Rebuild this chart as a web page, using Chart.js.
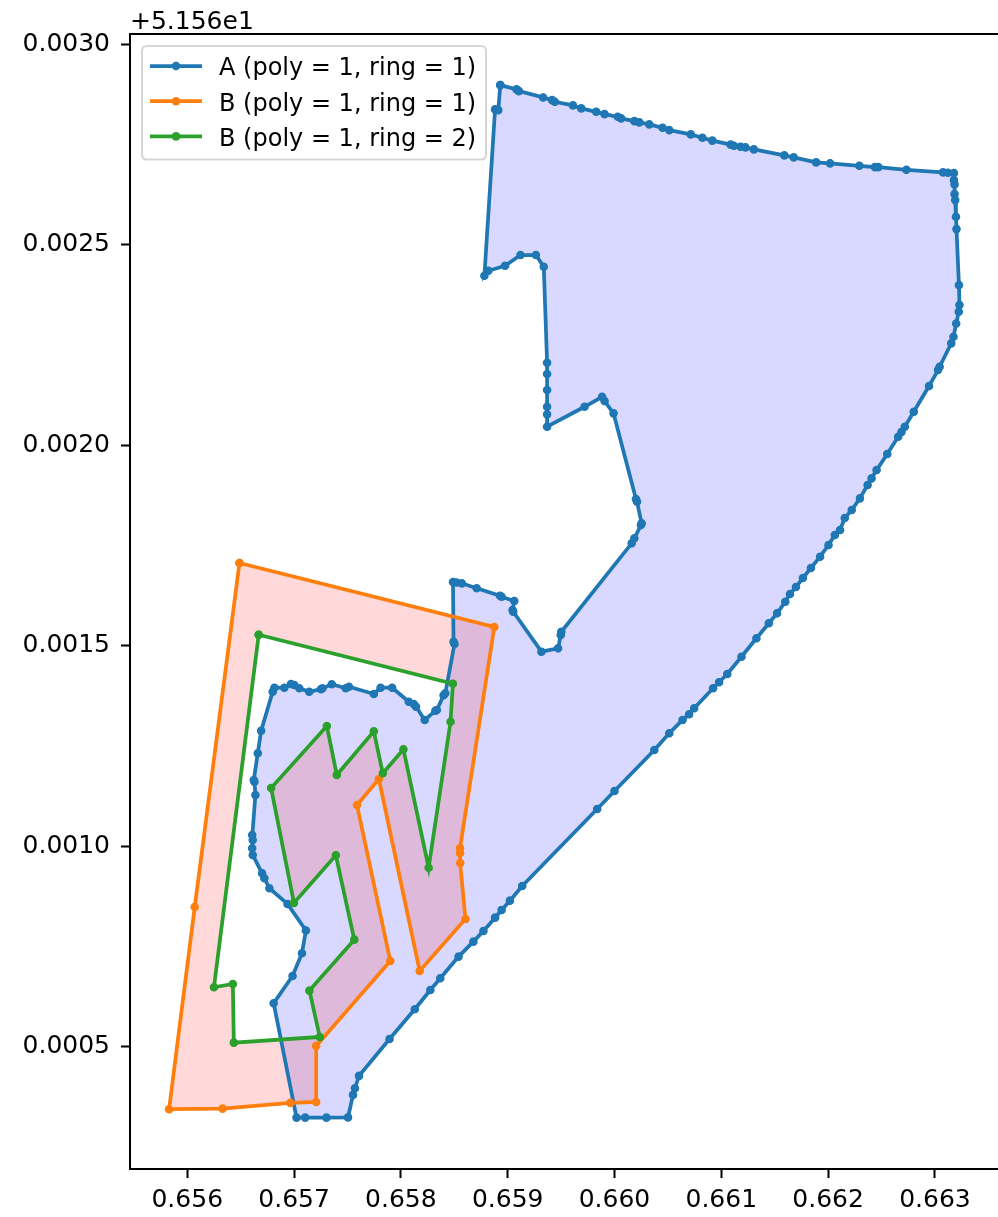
<!DOCTYPE html>
<html>
<head>
<meta charset="utf-8">
<script src="https://cdn.jsdelivr.net/npm/chart.js@4.4.1/dist/chart.umd.min.js"></script>
<style>
  html, body { margin: 0; padding: 0; background: #fff; overflow: hidden; }
  #wrap { position: relative; width: 1004px; height: 1217px; }
  canvas { display: block; }
</style>
</head>
<body>
<div id="wrap"><canvas id="c" width="1004" height="1217"></canvas></div>
<script>
// ---------------- data (longitude, latitude offset from 51.56) ----------------
const LAT_OFFSET_TEXT = '+5.156e1';

const seriesNames = ['A (poly = 1, ring = 1)', 'B (poly = 1, ring = 1)', 'B (poly = 1, ring = 2)'];
const seriesColors = ['#1f77b4', '#ff7f0e', '#2ca02c'];

const aLon = [
  0.658931, 0.659083, 0.659105, 0.659332, 0.659416, 0.659441, 0.659611, 0.659689, 0.659829, 0.659907,
  0.660031, 0.660062, 0.660186, 0.660233, 0.660326, 0.660450, 0.660513, 0.660714, 0.660823, 0.660916,
  0.661087, 0.661118, 0.661180, 0.661227, 0.661305, 0.661590, 0.661678, 0.661888, 0.662019, 0.662293,
  0.662438, 0.662470, 0.662733, 0.663076, 0.663122, 0.663178,
  0.663178, 0.663184, 0.663184, 0.663190, 0.663197, 0.663202, 0.663225, 0.663230, 0.663223, 0.663199,
  0.663174, 0.663153, 0.663044, 0.663029, 0.662945,
  0.662802, 0.662718, 0.662687, 0.662656, 0.662554, 0.662454, 0.662407, 0.662370, 0.662298, 0.662221,
  0.662156, 0.662112, 0.662063, 0.662004, 0.661925, 0.661839, 0.661764, 0.661699, 0.661643, 0.661599,
  0.661522, 0.661445, 0.661329, 0.661189, 0.661056, 0.660979, 0.660923, 0.660746, 0.660699, 0.660637,
  0.660513, 0.660373, 0.660000, 0.659838, 0.659136, 0.659021, 0.658943, 0.658882, 0.658773, 0.658679,
  0.658540, 0.658369, 0.658276, 0.658130, 0.657894, 0.657608, 0.657570, 0.657552, 0.657505,
  0.657303, 0.657104, 0.657023,
  0.656809, 0.656986, 0.657074, 0.657111, 0.656939, 0.656769, 0.656722, 0.656701, 0.656613, 0.656608,
  0.656613, 0.656608, 0.656638, 0.656629, 0.656623, 0.656660, 0.656692, 0.656800, 0.656816, 0.656909,
  0.656971, 0.657002, 0.657049, 0.657142, 0.657251, 0.657266, 0.657353, 0.657484, 0.657514, 0.657747,
  0.657810, 0.657918, 0.658074, 0.658120, 0.658142, 0.658223, 0.658323, 0.658337, 0.658400, 0.658416,
  0.658502, 0.658493, 0.658488, 0.658521, 0.658570, 0.658710, 0.658928, 0.658943, 0.659062, 0.659046,
  0.659052, 0.659316, 0.659472, 0.659497, 0.659502, 0.660161, 0.660186, 0.660248, 0.660254, 0.660211,
  0.660201, 0.659991, 0.659907, 0.659884, 0.659720, 0.659369, 0.659369, 0.659369, 0.659369, 0.659369,
  0.659369, 0.659338, 0.659264, 0.659120, 0.658975, 0.658819, 0.658782, 0.658882, 0.658912, 0.658931
];
const aLat = [
  0.0028985, 0.0028878, 0.0028835, 0.0028678, 0.0028611, 0.0028569, 0.0028479, 0.0028404, 0.0028319, 0.0028262,
  0.0028195, 0.0028155, 0.0028087, 0.0028055, 0.0028005, 0.0027920, 0.0027863, 0.0027756, 0.0027671, 0.0027601,
  0.0027501, 0.0027471, 0.0027446, 0.0027431, 0.0027382, 0.0027232, 0.0027182, 0.0027057, 0.0027032, 0.0026973,
  0.0026940, 0.0026940, 0.0026873, 0.0026808, 0.0026798, 0.0026790,
  0.0026616, 0.0026509, 0.0026267, 0.0026117, 0.0025701, 0.0025394, 0.0023997, 0.0023499, 0.0023332, 0.0023037,
  0.0022708, 0.0022544, 0.0021960, 0.0021878, 0.0021479,
  0.0020838, 0.0020464, 0.0020332, 0.0020214, 0.0019783, 0.0019384, 0.0019177, 0.0019010, 0.0018678, 0.0018386,
  0.0018187, 0.0017888, 0.0017763, 0.0017514, 0.0017222, 0.0016940, 0.0016691, 0.0016466, 0.0016292, 0.0016099,
  0.0015810, 0.0015561, 0.0015187, 0.0014728, 0.0014297, 0.0014090, 0.0013940, 0.0013441, 0.0013292, 0.0013150,
  0.0012818, 0.0012401, 0.0011379, 0.0010930, 0.0009010, 0.0008643, 0.0008411, 0.0008219, 0.0007888, 0.0007621,
  0.0007247, 0.0006708, 0.0006416, 0.0005935, 0.0005194, 0.0004272, 0.0003965, 0.0003798, 0.0003237,
  0.0003232, 0.0003232, 0.0003232,
  0.0006085, 0.0006765, 0.0007332, 0.0007900, 0.0008561, 0.0008952, 0.0009202, 0.0009326, 0.0009783, 0.0009950,
  0.0010157, 0.0010282, 0.0011279, 0.0011611, 0.0011653, 0.0012319, 0.0012882, 0.0013855, 0.0013955, 0.0013955,
  0.0014047, 0.0014022, 0.0013940, 0.0013855, 0.0013915, 0.0013940, 0.0014040, 0.0013940, 0.0013980, 0.0013798,
  0.0013955, 0.0013955, 0.0013606, 0.0013548, 0.0013481, 0.0013150, 0.0013381, 0.0013399, 0.0013765, 0.0013815,
  0.0015045, 0.0015102, 0.0016591, 0.0016578, 0.0016558, 0.0016434, 0.0016249, 0.0016224, 0.0016117, 0.0015893,
  0.0015850, 0.0014853, 0.0014937, 0.0015269, 0.0015351, 0.0017556, 0.0017681, 0.0018012, 0.0018055, 0.0018594,
  0.0018661, 0.0020798, 0.0021105, 0.0021212, 0.0020962, 0.0020464, 0.0020773, 0.0020962, 0.0021379, 0.0021778,
  0.0022060, 0.0024454, 0.0024746, 0.0024746, 0.0024479, 0.0024354, 0.0024229, 0.0028379, 0.0028362, 0.0028985
];

const b1Lon = [0.656489, 0.658875, 0.658554, 0.658554, 0.658556, 0.658605, 0.658176, 0.657794, 0.657589,
  0.657901, 0.657207, 0.657207, 0.656965, 0.656331, 0.655830, 0.656070, 0.656489];
const b1Lat = [0.0017065, 0.0015469, 0.0009958, 0.0009833, 0.0009584, 0.0008187, 0.0006890, 0.0011678, 0.0011030,
  0.0007140, 0.0005020, 0.0003623, 0.0003599, 0.0003456, 0.0003441, 0.0008486, 0.0017065];

const b2Lon = [0.656669, 0.658487, 0.658465, 0.658260, 0.658024, 0.657831, 0.657747, 0.657400, 0.657307, 0.656785,
  0.656999, 0.657391, 0.657564, 0.657144, 0.657241, 0.656436, 0.656427, 0.656250, 0.656669];
const b2Lat = [0.0015277, 0.0014055, 0.0013107, 0.0009466, 0.0012419, 0.0011820, 0.0012868, 0.0011778, 0.0013000, 0.0011454,
  0.0008586, 0.0009776, 0.0007671, 0.0006399, 0.0005244, 0.0005102, 0.0006566, 0.0006484, 0.0015277];

const xTicks = [0.656, 0.657, 0.658, 0.659, 0.660, 0.661, 0.662, 0.663];
const xTickLabels = ['0.656', '0.657', '0.658', '0.659', '0.660', '0.661', '0.662', '0.663'];
const yTicks = [0.0005, 0.0010, 0.0015, 0.0020, 0.0025, 0.0030];
const yTickLabels = ['0.0005', '0.0010', '0.0015', '0.0020', '0.0025', '0.0030'];

const xRange = [0.655464, 0.663600];
const yRange = [0.000195, 0.003026];

// ---------------- chart ----------------
const toPts = (xs, ys) => xs.map((v, i) => ({ x: v, y: ys[i] }));
const rings = [[aLon, aLat], [b1Lon, b1Lat], [b2Lon, b2Lat]];

const FONT = '"DejaVu Sans", "Liberation Sans", sans-serif';
Chart.defaults.font.family = FONT;

const fillPlugin = {
  id: 'polyFill',
  beforeDatasetsDraw(chart) {
    const { ctx, chartArea: a, scales: { x, y } } = chart;
    const trace = (xs, ys) => {
      xs.forEach((v, i) => {
        const px = x.getPixelForValue(v), py = y.getPixelForValue(ys[i]);
        if (i === 0) ctx.moveTo(px, py); else ctx.lineTo(px, py);
      });
      ctx.closePath();
    };
    ctx.save();
    ctx.beginPath();
    ctx.rect(a.left, a.top, a.right - a.left, a.bottom - a.top);
    ctx.clip();
    ctx.beginPath();
    trace(aLon, aLat);
    ctx.fillStyle = 'rgba(0,0,255,0.15)';
    ctx.fill();
    ctx.beginPath();
    trace(b1Lon, b1Lat);
    trace(b2Lon, b2Lat);
    ctx.fillStyle = 'rgba(255,0,0,0.15)';
    ctx.fill('evenodd');
    ctx.restore();
  }
};

const framePlugin = {
  id: 'frameAndText',
  afterDraw(chart) {
    const { ctx, chartArea: a } = chart;
    ctx.save();
    // spines
    ctx.strokeStyle = '#000';
    ctx.lineWidth = 2;
    ctx.strokeRect(a.left, a.top, a.right - a.left, a.bottom - a.top);
    // offset text
    ctx.fillStyle = '#000';
    ctx.font = '25px ' + FONT;
    ctx.textAlign = 'left';
    ctx.textBaseline = 'alphabetic';
    ctx.fillText(LAT_OFFSET_TEXT, a.left, 28.5);
    // legend
    const bx = a.left + 12, by = a.top + 12, bw = 344, bh = 113.5, r = 5;
    ctx.beginPath();
    ctx.moveTo(bx + r, by);
    ctx.lineTo(bx + bw - r, by); ctx.quadraticCurveTo(bx + bw, by, bx + bw, by + r);
    ctx.lineTo(bx + bw, by + bh - r); ctx.quadraticCurveTo(bx + bw, by + bh, bx + bw - r, by + bh);
    ctx.lineTo(bx + r, by + bh); ctx.quadraticCurveTo(bx, by + bh, bx, by + bh - r);
    ctx.lineTo(bx, by + r); ctx.quadraticCurveTo(bx, by, bx + r, by);
    ctx.closePath();
    ctx.fillStyle = 'rgba(255,255,255,0.8)';
    ctx.fill();
    ctx.strokeStyle = 'rgba(204,204,204,0.8)';
    ctx.lineWidth = 2;
    ctx.stroke();
    seriesNames.forEach((name, i) => {
      const yy = by + 20 + i * 35.2;
      const x0 = bx + 8, x1 = bx + 60;
      ctx.strokeStyle = seriesColors[i];
      ctx.lineWidth = 3.75;
      ctx.beginPath(); ctx.moveTo(x0, yy); ctx.lineTo(x1, yy); ctx.stroke();
      ctx.fillStyle = seriesColors[i];
      ctx.beginPath(); ctx.arc((x0 + x1) / 2, yy, 4.3, 0, Math.PI * 2); ctx.fill();
      ctx.fillStyle = '#000';
      ctx.font = '24px ' + FONT;
      ctx.fillText(name, bx + 77, yy + 9.3);
    });
    ctx.restore();
  }
};

const datasets = rings.map((r, i) => ({
  label: seriesNames[i],
  data: toPts(r[0], r[1]),
  showLine: true,
  borderColor: seriesColors[i],
  backgroundColor: seriesColors[i],
  borderWidth: 3.75,
  pointRadius: 3.6,
  pointHoverRadius: 3.6,
  pointBorderWidth: 1.4,
  pointBorderColor: seriesColors[i],
  pointBackgroundColor: seriesColors[i],
  tension: 0,
  fill: false,
  order: 3 - i
}));

new Chart(document.getElementById('c'), {
  type: 'scatter',
  data: { datasets },
  options: {
    responsive: false,
    animation: false,
    devicePixelRatio: 1,
    layout: { padding: { top: 34, right: 1, left: 0, bottom: 0 } },
    plugins: { legend: { display: false }, tooltip: { enabled: false }, title: { display: false } },
    scales: {
      x: {
        type: 'linear',
        min: xRange[0], max: xRange[1],
        afterBuildTicks: (s) => { s.ticks = xTicks.map(v => ({ value: v })); },
        afterFit: (s) => { s.height = 48; },
        ticks: {
          autoSkip: false, maxRotation: 0, color: '#000', padding: 7,
          font: { size: 25, family: FONT },
          callback: (v, i) => xTickLabels[i]
        },
        grid: { drawOnChartArea: false, drawTicks: true, tickLength: 9, tickWidth: 2, tickColor: '#000', color: '#000' },
        border: { display: false }
      },
      y: {
        type: 'linear',
        min: yRange[0], max: yRange[1],
        afterBuildTicks: (s) => { s.ticks = yTicks.map(v => ({ value: v })); },
        afterFit: (s) => { s.width = 130; },
        ticks: {
          autoSkip: false, color: '#000', padding: 11,
          font: { size: 25, family: FONT },
          callback: (v, i) => yTickLabels[i]
        },
        grid: { drawOnChartArea: false, drawTicks: true, tickLength: 9, tickWidth: 2, tickColor: '#000', color: '#000' },
        border: { display: false }
      }
    }
  },
  plugins: [fillPlugin, framePlugin]
});
</script>
</body>
</html>
